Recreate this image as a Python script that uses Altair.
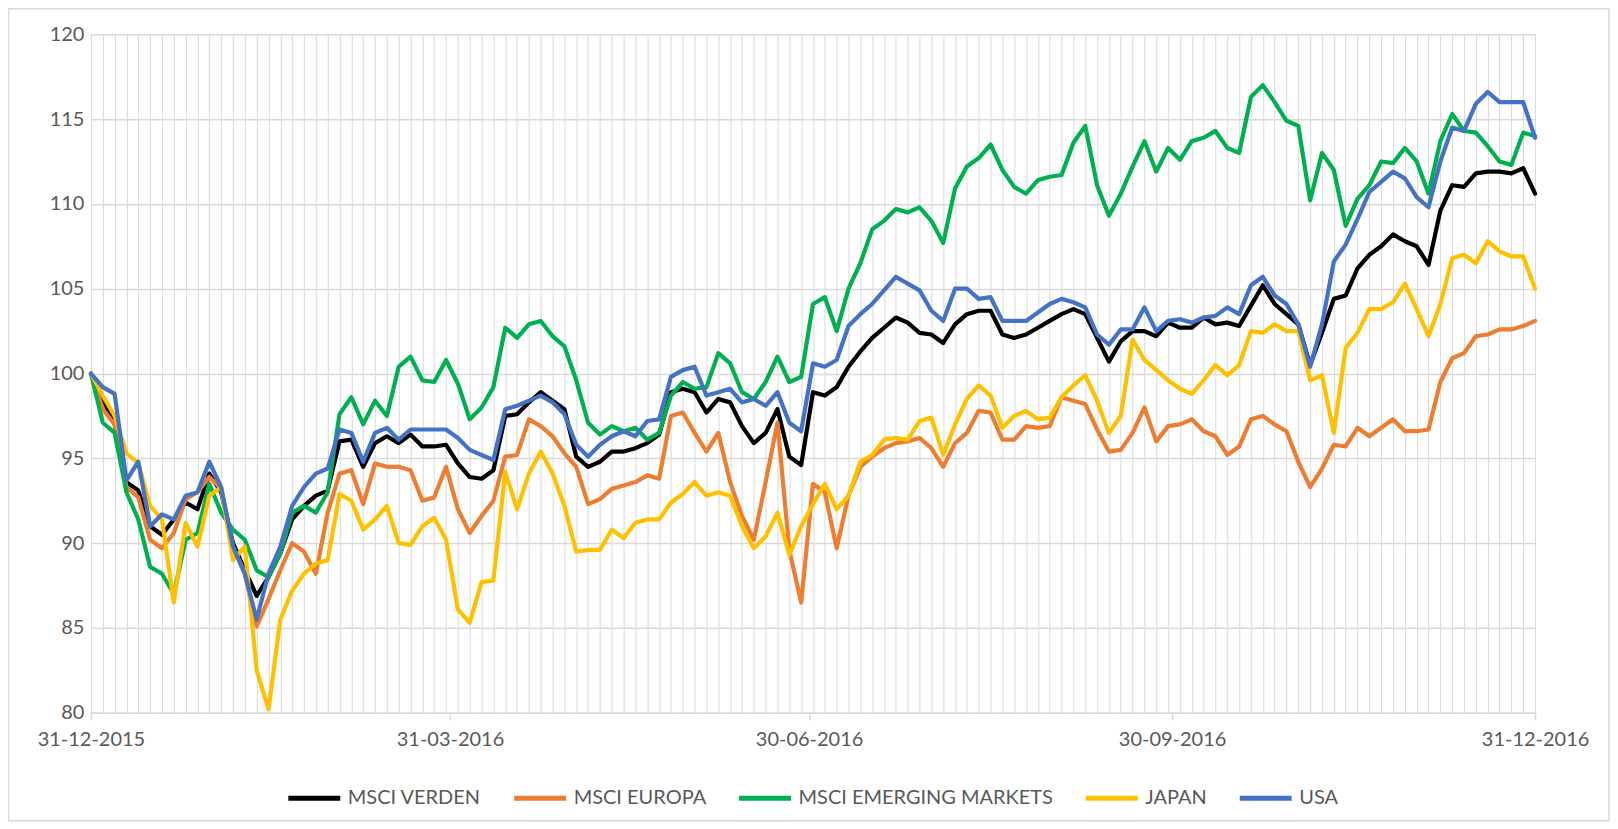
import altair as alt
import pandas as pd

# ---------------- data (one value every 3 days) ----------------
START = "2015-12-31"
STEP_DAYS = 3
SERIES = ["MSCI VERDEN", "MSCI EUROPA", "MSCI EMERGING MARKETS", "JAPAN", "USA"]
COLORS = ["#000000", "#ED7D31", "#00B050", "#FFC000", "#4472C4"]
QUARTER_DATES = ["2015-12-31", "2016-03-31", "2016-06-30", "2016-09-30", "2016-12-31"]
QUARTER_LABELS = ["31-12-2015", "31-03-2016", "30-06-2016", "30-09-2016", "31-12-2016"]
Y_TICKS = [80, 85, 90, 95, 100, 105, 110, 115, 120]

msci_verden = [
    100.0, 98.5, 97.0, 93.6, 93.1, 91.0, 90.5, 91.4, 92.4, 92.0,
    94.1, 93.0, 90.0, 88.4, 86.9, 88.0, 89.4, 91.4, 92.2, 92.8,
    93.1, 96.0, 96.1, 94.5, 95.9, 96.3, 95.9, 96.4, 95.7, 95.7,
    95.8, 94.7, 93.9, 93.8, 94.3, 97.5, 97.6, 98.3, 98.9, 98.4,
    97.9, 95.1, 94.5, 94.8, 95.4, 95.4, 95.6, 95.9, 96.4, 98.9,
    99.1, 98.9, 97.7, 98.5, 98.3, 96.9, 95.9, 96.5, 97.9, 95.1,
    94.6, 98.9, 98.7, 99.2, 100.4, 101.3, 102.1, 102.7, 103.3, 103.0,
    102.4, 102.3, 101.8, 102.9, 103.5, 103.7, 103.7, 102.3, 102.1, 102.3,
    102.7, 103.1, 103.5, 103.8, 103.5, 102.1, 100.7, 101.9, 102.5, 102.5,
    102.2, 103.0, 102.7, 102.7, 103.3, 102.9, 103.0, 102.8, 104.0, 105.2,
    104.1, 103.5, 102.9, 100.5, 102.4, 104.4, 104.6, 106.2, 107.0, 107.5,
    108.2, 107.8, 107.5, 106.4, 109.6, 111.1, 111.0, 111.8, 111.9, 111.9,
    111.8, 112.1, 110.6,
]
msci_europa = [
    100.0, 97.9, 97.0, 93.3, 92.7, 90.2, 89.7, 90.6, 92.6, 93.0,
    93.9, 93.2, 89.8, 88.2, 85.1, 86.7, 88.4, 90.0, 89.5, 88.2,
    91.8, 94.1, 94.3, 92.3, 94.7, 94.5, 94.5, 94.3, 92.5, 92.7,
    94.5, 92.0, 90.6, 91.6, 92.5, 95.1, 95.2, 97.3, 96.9, 96.3,
    95.3, 94.5, 92.3, 92.6, 93.2, 93.4, 93.6, 94.0, 93.8, 97.5,
    97.7, 96.5, 95.4, 96.5, 93.6, 91.6, 90.2, 93.6, 97.1, 89.6,
    86.5, 93.5, 93.0, 89.7, 92.8, 94.5, 95.1, 95.6, 95.9, 96.0,
    96.2, 95.6, 94.5, 95.9, 96.5, 97.8, 97.7, 96.1, 96.1, 96.9,
    96.8, 96.9, 98.6, 98.4, 98.2, 96.7, 95.4, 95.5, 96.5, 98.0,
    96.0, 96.9, 97.0, 97.3, 96.6, 96.3, 95.2, 95.7, 97.3, 97.5,
    97.0, 96.6, 94.8, 93.3, 94.4, 95.8, 95.7, 96.8, 96.3, 96.8,
    97.3, 96.6, 96.6, 96.7, 99.5, 100.9, 101.2, 102.2, 102.3, 102.6,
    102.6, 102.8, 103.1,
]
msci_emerging = [
    100.0, 97.1, 96.5, 93.0, 91.4, 88.6, 88.2, 87.0, 90.2, 90.6,
    93.5, 91.8, 90.8, 90.2, 88.4, 88.0, 89.4, 91.8, 92.2, 91.8,
    93.0, 97.6, 98.6, 97.0, 98.4, 97.5, 100.4, 101.0, 99.6, 99.5,
    100.8, 99.4, 97.3, 98.0, 99.2, 102.7, 102.1, 102.9, 103.1, 102.2,
    101.6, 99.6, 97.1, 96.4, 96.9, 96.6, 96.8, 96.1, 96.5, 98.7,
    99.5, 99.1, 99.2, 101.2, 100.6, 98.9, 98.5, 99.5, 101.0, 99.5,
    99.8, 104.1, 104.5, 102.5, 105.0, 106.5, 108.5, 109.0, 109.7, 109.5,
    109.8, 109.0, 107.7, 110.9, 112.2, 112.7, 113.5, 112.0, 111.0, 110.6,
    111.4, 111.6, 111.7, 113.6, 114.6, 111.1, 109.3, 110.6, 112.2, 113.7,
    111.9, 113.3, 112.6, 113.7, 113.9, 114.3, 113.3, 113.0, 116.3, 117.0,
    116.0, 114.9, 114.6, 110.2, 113.0, 112.0, 108.7, 110.3, 111.1, 112.5,
    112.4, 113.3, 112.5, 110.6, 113.7, 115.3, 114.3, 114.2, 113.4, 112.5,
    112.3, 114.2, 114.0,
]
japan = [
    100.0, 98.7, 97.5, 95.3, 94.7, 92.2, 91.4, 86.5, 91.2, 89.8,
    92.8, 93.3, 89.0, 89.8, 82.5, 80.2, 85.5, 87.2, 88.2, 88.8,
    89.0, 92.9, 92.5, 90.8, 91.4, 92.2, 90.0, 89.9, 91.0, 91.5,
    90.2, 86.1, 85.3, 87.7, 87.8, 94.2, 92.0, 94.1, 95.4, 94.1,
    92.2, 89.5, 89.6, 89.6, 90.8, 90.3, 91.2, 91.4, 91.4, 92.4,
    92.9, 93.6, 92.8, 93.0, 92.8, 91.0, 89.7, 90.4, 91.8, 89.3,
    91.0, 92.3, 93.5, 92.0, 92.8, 94.8, 95.2, 96.1, 96.2, 96.1,
    97.2, 97.4, 95.2, 97.0, 98.5, 99.3, 98.7, 96.8, 97.5, 97.8,
    97.3, 97.4, 98.6, 99.3, 99.9, 98.4, 96.5, 97.5, 102.0, 100.8,
    100.2, 99.6, 99.1, 98.8, 99.6, 100.5, 99.9, 100.5, 102.5, 102.4,
    102.9, 102.5, 102.5, 99.6, 99.9, 96.5, 101.5, 102.4, 103.8, 103.8,
    104.2, 105.3, 103.8, 102.2, 104.1, 106.8, 107.0, 106.5, 107.8, 107.2,
    106.9, 106.9, 105.0,
]
usa = [
    100.0, 99.2, 98.8, 93.7, 94.8, 91.0, 91.7, 91.4, 92.8, 93.0,
    94.8, 93.3, 89.8, 88.2, 85.5, 88.2, 89.8, 92.2, 93.3, 94.1,
    94.4, 96.7, 96.5, 94.8, 96.5, 96.8, 96.1, 96.7, 96.7, 96.7,
    96.7, 96.2, 95.5, 95.2, 94.9, 97.9, 98.1, 98.4, 98.7, 98.3,
    97.6, 95.8, 95.1, 95.8, 96.3, 96.6, 96.3, 97.2, 97.3, 99.8,
    100.2, 100.4, 98.7, 98.9, 99.1, 98.3, 98.5, 98.1, 98.9, 97.1,
    96.6, 100.6, 100.4, 100.8, 102.8, 103.5, 104.1, 104.9, 105.7, 105.3,
    104.9, 103.7, 103.1, 105.0, 105.0, 104.4, 104.5, 103.1, 103.1, 103.1,
    103.6, 104.1, 104.4, 104.2, 103.9, 102.3, 101.7, 102.6, 102.6, 103.9,
    102.5, 103.1, 103.2, 103.0, 103.3, 103.4, 103.9, 103.5, 105.2, 105.7,
    104.6, 104.1, 102.9, 100.4, 102.9, 106.6, 107.6, 109.1, 110.7, 111.3,
    111.9, 111.5, 110.4, 109.8, 112.5, 114.5, 114.3, 115.9, 116.6, 116.0,
    116.0, 116.0, 113.9,
]

# ---------------- table ----------------
values_by_series = [msci_verden, msci_europa, msci_emerging, japan, usa]
n = min(len(v) for v in values_by_series)
dates = pd.date_range(START, periods=n, freq=f"{STEP_DAYS}D")
rows = []
for name, vals in zip(SERIES, values_by_series):
    for d, v in zip(dates, vals):
        rows.append({"date": d.strftime("%Y-%m-%dT00:00:00"), "value": v, "series": name})
df = pd.DataFrame(rows)

# axis positions: 3-day grid plus the quarter-end label dates
grid_dates = list(pd.date_range(START, "2016-12-31", freq=f"{STEP_DAYS}D"))
grid_set = set(d.strftime("%Y-%m-%d") for d in grid_dates)
extra = [pd.Timestamp(q) for q in QUARTER_DATES if q not in grid_set]
all_dates = sorted(grid_dates + extra)
axis_vals = [alt.DateTime(year=int(d.year), month=int(d.month), date=int(d.day)) for d in all_dates]
off_grid_labels = [pd.Timestamp(q).strftime("%d-%m-%Y") for q in QUARTER_DATES if q not in grid_set]

label_list = "[" + ",".join(f"'{s}'" for s in QUARTER_LABELS) + "]"
off_list = "[" + ",".join(f"'{s}'" for s in off_grid_labels) + "]"
fmt = "timeFormat(datum.value, '%d-%m-%Y')"
is_label = f"indexof({label_list}, {fmt}) >= 0"
is_off_grid = f"indexof({off_list}, {fmt}) >= 0"

GRID = "#d9d9d9"
TEXT = "#595959"
FONT = "Lato"

W, H = 1445, 679

x_enc = alt.X(
    "date:T",
    scale=alt.Scale(
        domain=[alt.DateTime(year=2015, month=12, date=31), alt.DateTime(year=2016, month=12, date=31)],
        nice=False,
    ),
    axis=alt.Axis(
        values=axis_vals,
        labelExpr=f"{is_label} ? {fmt} : ''",
        tickColor={"condition": {"test": is_label, "value": GRID}, "value": "transparent"},
        gridColor={"condition": {"test": is_off_grid, "value": "transparent"}, "value": GRID},
        tickSize=7,
        tickWidth=1.5,
        grid=True,
        gridWidth=1,
        domainColor=GRID,
        domainWidth=1.5,
        labelOverlap=False,
        labelFlush=False,
        labelPadding=10,
        labelFont=FONT,
        labelFontSize=20,
        labelColor=TEXT,
        title=None,
    ),
)

y_enc = alt.Y(
    "value:Q",
    scale=alt.Scale(domain=[80, 120], nice=False, zero=False),
    axis=alt.Axis(
        values=Y_TICKS,
        grid=True,
        gridColor=GRID,
        gridWidth=1.5,
        domain=False,
        ticks=False,
        labelPadding=7,
        labelFont=FONT,
        labelFontSize=20,
        labelColor=TEXT,
        title=None,
    ),
)

color_enc = alt.Color(
    "series:N",
    scale=alt.Scale(domain=SERIES, range=COLORS),
    legend=alt.Legend(
        title=None,
        orient="none",
        legendX=195,
        legendY=736,
        direction="horizontal",
        columns=5,
        gridAlign="none",
        symbolType="stroke",
        symbolSize=2704,
        symbolStrokeWidth=5,
        labelFont=FONT,
        labelFontSize=20,
        labelColor=TEXT,
        labelLimit=500,
        labelOffset=5,
        columnPadding=22,
    ),
)

lines = alt.Chart(df).mark_line(
    strokeWidth=4.2, strokeJoin="round", strokeCap="round"
).encode(x=x_enc, y=y_enc, color=color_enc, detail="series:N")

border = alt.Chart(pd.DataFrame({"b": [0]})).mark_rect(
    fillOpacity=0, stroke=GRID, strokeWidth=1.5
).encode(
    x=alt.value(-82.5), x2=alt.value(1519), y=alt.value(-25.5), y2=alt.value(787)
)

chart = alt.layer(border, lines).properties(
    width=W,
    height=H,
    autosize=alt.AutoSizeParams(type="none"),
    padding={"left": 83, "top": 26, "right": 75, "bottom": 109},
    background="white",
).configure_view(strokeWidth=0)

chart.save("out.html", embed_options={"renderer": "svg", "actions": False})
